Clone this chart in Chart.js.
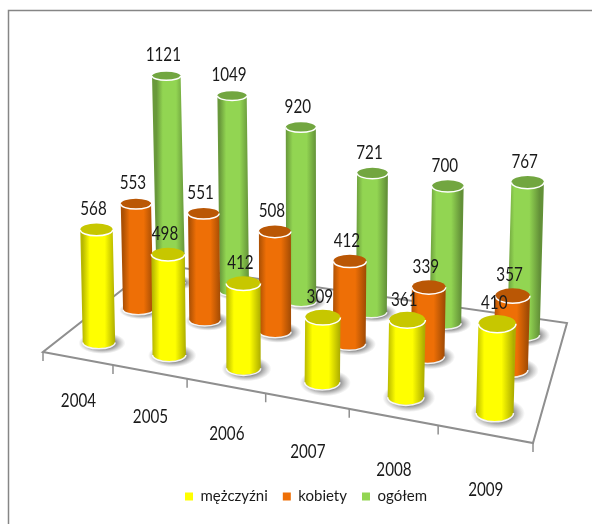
<!DOCTYPE html>
<html lang="pl">
<head>
<meta charset="utf-8">
<title>mężczyźni, kobiety, ogółem</title>
<script src="https://cdn.jsdelivr.net/npm/chart.js@4"></script>
<style>
    html, body { margin: 0; padding: 0; background: #fff; }
    canvas { display: block; }
</style>
</head>
<body>
<canvas id="wykres" width="592" height="524"></canvas>
<script>
// Dane
const years = ['2004', '2005', '2006', '2007', '2008', '2009'];
const men = [568, 498, 412, 309, 361, 410];
const women = [553, 551, 508, 412, 339, 357];
const total = [1121, 1049, 920, 721, 700, 767];

const fontName = 'Lato, sans-serif';

// Rzut perspektywiczny podłogi: lewy przód, prawy przód, prawy tył, lewy tył
const floor = [[43, 352], [533, 443], [567, 323], [155, 264]];
const seriesDepth = [0.155, 0.5, 0.825];
const valueSpan = 260;   // wysokość pełnej osi Y w pikselach ekranu
const baseWidth = 33;

function makeProjection(q) {
    const dx3 = q[0][0] - q[1][0] + q[2][0] - q[3][0];
    const dy3 = q[0][1] - q[1][1] + q[2][1] - q[3][1];
    const dx1 = q[1][0] - q[2][0], dy1 = q[1][1] - q[2][1];
    const dx2 = q[3][0] - q[2][0], dy2 = q[3][1] - q[2][1];
    const den = dx1 * dy2 - dy1 * dx2;
    const g = (dx3 * dy2 - dy3 * dx2) / den;
    const h = (dx1 * dy3 - dy1 * dx3) / den;
    const a = q[1][0] - q[0][0] + g * q[1][0], b = q[3][0] - q[0][0] + h * q[3][0];
    const d = q[1][1] - q[0][1] + g * q[1][1], e = q[3][1] - q[0][1] + h * q[3][1];
    return function(u, v) {
        const w = g * u + h * v + 1;
        return { x: (a * u + b * v + q[0][0]) / w, y: (d * u + e * v + q[0][1]) / w, k: 1 / w };
    };
}
const project = makeProjection(floor);

function shade(hex, f) {
    const n = parseInt(hex.slice(1), 16);
    const c = [n >> 16, (n >> 8) & 255, n & 255].map(v => Math.round(v * f));
    return `rgb(${c[0]},${c[1]},${c[2]})`;
}

// Tekst zwężony w poziomie, jak w oryginale
function narrowText(ctx, text, x, y) {
    ctx.save();
    ctx.translate(x, y);
    ctx.scale(0.76, 1);
    ctx.fillText(text, 0, 0);
    ctx.restore();
}

// Walec zamiast słupka: x, y i base pochodzą ze skal wykresu
class CylinderElement extends Chart.BarElement {
    static id = 'cylinder';

    draw(ctx) {
        const c = this.cyl;
        if (!c) return;
        const color = this.options.backgroundColor;
        ctx.save();

        // cień na podłodze
        const sx = c.baseX + 3, sy = c.baseY + 1;
        ctx.save();
        ctx.translate(sx, sy);
        ctx.scale(1, c.ry * 1.75 / (c.rx * 1.45));
        const shadow = ctx.createRadialGradient(0, 0, c.rx * 0.7, 0, 0, c.rx * 1.45);
        shadow.addColorStop(0, 'rgba(80,80,80,0.8)');
        shadow.addColorStop(1, 'rgba(120,120,120,0)');
        ctx.fillStyle = shadow;
        ctx.beginPath();
        ctx.arc(0, 0, c.rx * 1.45, 0, Math.PI * 2);
        ctx.fill();
        ctx.restore();

        // bok walca
        const grad = ctx.createLinearGradient(c.baseX - c.rx, 0, c.baseX + c.rx, 0);
        grad.addColorStop(0, shade(color, 0.72));
        grad.addColorStop(0.22, color);
        grad.addColorStop(0.68, color);
        grad.addColorStop(1, shade(color, 0.68));
        ctx.fillStyle = grad;
        ctx.beginPath();
        ctx.moveTo(c.topX - c.rx, c.topY);
        ctx.lineTo(c.baseX - c.rx, c.baseY);
        ctx.ellipse(c.baseX, c.baseY, c.rx, c.ry, 0, Math.PI, 0, true);
        ctx.lineTo(c.topX + c.rx, c.topY);
        ctx.closePath();
        ctx.fill();

        // dolna biała krawędź
        ctx.strokeStyle = 'rgba(255,255,255,0.9)';
        ctx.lineWidth = 1.5;
        ctx.beginPath();
        ctx.ellipse(c.baseX, c.baseY + 0.5, c.rx, c.ry, 0, Math.PI, 0, true);
        ctx.stroke();

        // górna podstawa
        ctx.fillStyle = shade(color, 0.78);
        ctx.beginPath();
        ctx.ellipse(c.topX, c.topY, c.rx, c.ry, 0, 0, Math.PI * 2);
        ctx.fill();
        ctx.strokeStyle = '#fff';
        ctx.lineWidth = 1.5;
        ctx.beginPath();
        ctx.ellipse(c.topX, c.topY, c.rx, c.ry, 0, 0, Math.PI);
        ctx.stroke();
        ctx.restore();
    }
}

class CylinderController extends Chart.BarController {
    static id = 'cylinder';
    static defaults = { dataElementType: 'cylinder' };

    draw() {
        const area = this.chart.chartArea;
        const depth = this.getDataset().depth;
        this.getMeta().data.forEach(bar => {
            const u = (bar.x - area.left) / area.width;
            const p = project(u, depth);
            const height = (bar.base - bar.y) / area.height * valueSpan * Math.pow(p.k, 0.6);
            const rx = baseWidth * p.k / 2;
            bar.cyl = {
                baseX: p.x + 2,
                baseY: p.y,
                topX: p.x + 2 + (u - 0.45) * 6 * height / 100,
                topY: p.y - height,
                rx: rx,
                ry: rx * (0.39 + 0.11 * u - 0.12 * depth)
            };
        });
        super.draw();
    }
}

Chart.register(CylinderElement, CylinderController);

// Ramka, podłoga i etykiety lat
const floorPlugin = {
    id: 'floorPlugin',
    beforeDatasetsDraw(chart) {
        const ctx = chart.ctx;
        ctx.save();

        ctx.strokeStyle = '#868686';
        ctx.lineWidth = 1.5;
        ctx.beginPath();
        ctx.moveTo(8.5, 524);
        ctx.lineTo(8.5, 10.5);
        ctx.lineTo(592, 10.5);
        ctx.stroke();

        ctx.strokeStyle = '#8f8f8f';
        ctx.lineWidth = 2;
        ctx.beginPath();
        floor.forEach((pt, i) => i ? ctx.lineTo(pt[0], pt[1]) : ctx.moveTo(pt[0], pt[1]));
        ctx.closePath();
        ctx.stroke();

        ctx.lineWidth = 1.5;
        ctx.beginPath();
        for (let i = 0; i <= years.length; i++) {
            const p = project(i / years.length, 0);
            ctx.moveTo(p.x, p.y);
            ctx.lineTo(p.x, p.y + 9);
        }
        ctx.stroke();

        ctx.fillStyle = '#1a1a1a';
        ctx.font = '20px ' + fontName;
        ctx.textAlign = 'center';
        ctx.textBaseline = 'middle';
        years.forEach((year, i) => {
            const u = (i + 0.5) / years.length;
            const p = project(u, 0);
            narrowText(ctx, year, p.x + 1, p.y + 41 + 16 * u);
        });
        ctx.restore();
    }
};

// Wartości nad walcami
const valueLabels = {
    id: 'valueLabels',
    afterDatasetsDraw(chart) {
        const ctx = chart.ctx;
        ctx.save();
        ctx.fillStyle = '#1a1a1a';
        ctx.font = '20px ' + fontName;
        ctx.textAlign = 'center';
        ctx.textBaseline = 'middle';
        chart.data.datasets.forEach((ds, d) => {
            chart.getDatasetMeta(d).data.forEach((bar, i) => {
                narrowText(ctx, ds.data[i], bar.cyl.topX - 3, bar.cyl.topY - 21);
            });
        });
        ctx.restore();
    }
};

new Chart(document.getElementById('wykres'), {
    type: 'cylinder',
    data: {
        labels: years,
        datasets: [
            { label: 'mężczyźni', data: men, depth: seriesDepth[0], backgroundColor: '#ffff00', clip: false },
            { label: 'kobiety', data: women, depth: seriesDepth[1], backgroundColor: '#ee6f06', clip: false },
            { label: 'ogółem', data: total, depth: seriesDepth[2], backgroundColor: '#92d552', clip: false }
        ]
    },
    options: {
        responsive: false,
        animation: false,
        grouped: false,
        layout: { padding: { left: 20, bottom: 10 } },
        scales: {
            x: { type: 'category', display: false },
            y: { type: 'linear', display: false, min: 0, max: 1300 }
        },
        plugins: {
            tooltip: { enabled: false },
            legend: {
                position: 'bottom',
                labels: {
                    boxWidth: 8,
                    boxHeight: 8,
                    padding: 15,
                    color: '#1a1a1a',
                    font: { family: fontName, size: 15 }
                }
            }
        }
    },
    plugins: [floorPlugin, valueLabels]
});
</script>
</body>
</html>
